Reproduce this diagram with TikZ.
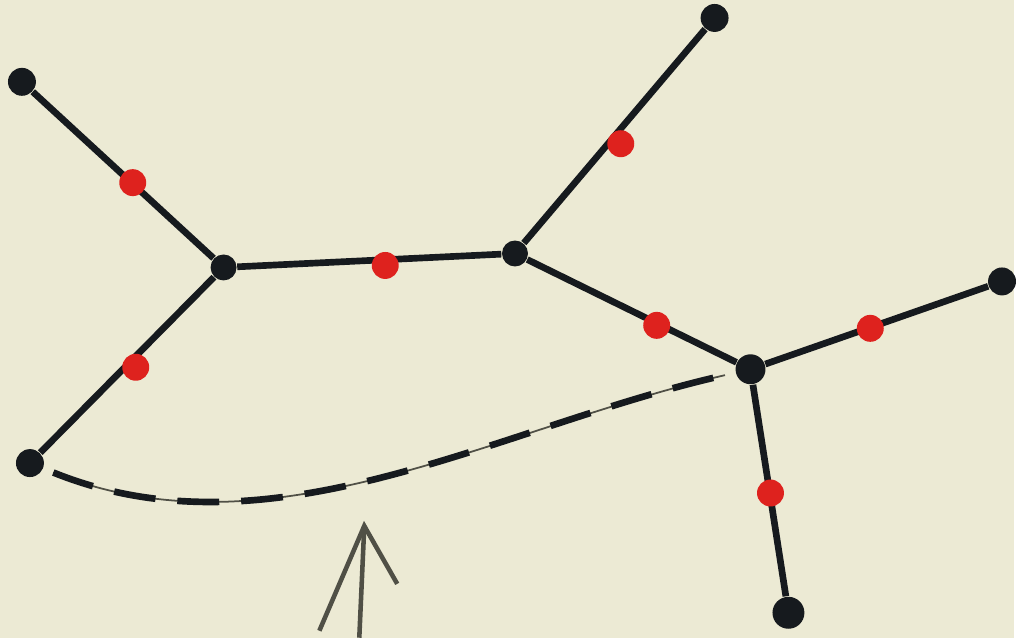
\documentclass[tikz,border=0pt]{standalone}
\usetikzlibrary{arrows.meta}
\definecolor{paper}{RGB}{236, 234, 212}
\definecolor{ink}{RGB}{22, 26, 30}
\definecolor{redink}{RGB}{222, 34, 30}
\definecolor{pencil}{RGB}{80, 80, 70}
\begin{document}
\begin{tikzpicture}[
	% Styles for vertices and edges
	vertex/.style={circle, fill=ink, inner sep=0pt, minimum size=0.28cm},
	junction/.style={circle, fill=ink, inner sep=0pt, minimum size=0.26cm},
	reddot/.style={circle, fill=redink, inner sep=0pt, minimum size=0.27cm},
	edge/.style={draw=ink, line width=1.9pt},
	dashedge/.style={draw=ink, line width=1.9pt, dash pattern=on 0.42cm off 0.22cm},
	pencilline/.style={draw=pencil, line width=0.5pt}
	]
	
	% paper, fixes the size
	\fill[paper] (0, 0) rectangle (10.16, 6.39);
	
	% ==========================================
	% VERTICES
	% ==========================================
	\node[vertex] (a) at (0.22, 5.57) {};
	\node[junction] (b) at (2.24, 3.71) {};
	\node[vertex] (c) at (0.30, 1.75) {};
	\node[junction] (d) at (5.16, 3.85) {};
	\node[vertex] (e) at (7.16, 6.21) {};
	\node[junction, minimum size=0.3cm] (f) at (7.52, 2.69) {};
	\node[vertex] (g) at (10.04, 3.57) {};
	\node[vertex, minimum size=0.32cm] (h) at (7.90, 0.25) {};
	
	% ==========================================
	% EDGES
	% ==========================================
	\draw[edge] (a) -- (b);
	\draw[edge] (b) -- (c);
	\draw[edge] (b) -- (d);
	\draw[edge] (d) -- (e);
	\draw[edge] (d) -- (f);
	\draw[edge] (f) -- (g);
	\draw[edge] (f) -- (h);
	
	% dashed curve under the tree (thin pencil line beneath)
	\draw[pencilline, shorten <=3pt, shorten >=3pt] (c) to[out=-22, in=193, looseness=0.9] (f);
	\draw[dashedge, shorten <=3pt, shorten >=5pt] (c) to[out=-22, in=193, looseness=0.9] (f);
	
	% ==========================================
	% RED MARKS ON THE EDGES
	% ==========================================
	\node[reddot] (ab) at (1.33, 4.56) {};
	\node[reddot] (bc) at (1.36, 2.71) {};
	\node[reddot] (bd) at (3.86, 3.73) {};
	\node[reddot] (de) at (6.22, 4.95) {};
	\node[reddot] (df) at (6.58, 3.13) {};
	\node[reddot] (fg) at (8.72, 3.10) {};
	\node[reddot] (fh) at (7.72, 1.45) {};
	
	% ==========================================
	% PENCIL ARROW
	% ==========================================
	\coordinate (tip) at (3.65, 1.12);
	\coordinate (tail) at (3.60, 0.00);
	\coordinate (lwing) at (3.20, 0.07);
	\coordinate (rwing) at (3.98, 0.54);
	\draw[pencilline, line width=1.3pt] (tail) -- (tip);
	\draw[pencilline, line width=1.3pt] (lwing) -- (tip) -- (rwing);
	
\end{tikzpicture}
\end{document}
